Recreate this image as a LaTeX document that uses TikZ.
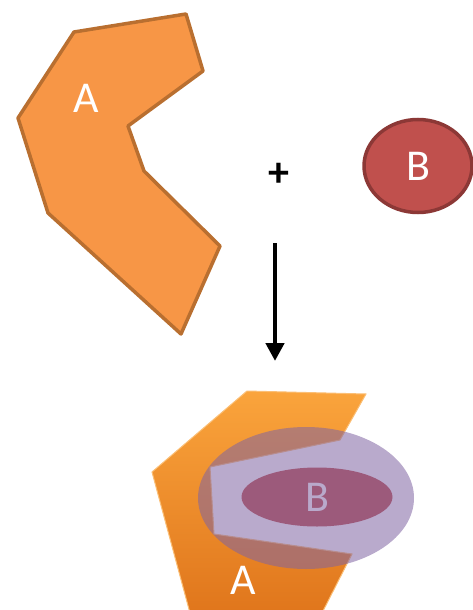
\documentclass[tikz,border=0pt]{standalone}
\usepackage{fontspec}
\setmainfont{Carlito}
\usepackage{xcolor}
\usetikzlibrary{positioning, shapes.geometric, arrows.meta}

\definecolor{orangeA}{HTML}{F79646}
\definecolor{orangeEdge}{HTML}{B96F30}
\definecolor{orangeTop}{HTML}{FAA43C}
\definecolor{orangeLow}{HTML}{E0761C}
\definecolor{redB}{HTML}{C0504D}
\definecolor{redEdge}{HTML}{8C3836}
\definecolor{purpleC}{HTML}{8064A2}

\tikzset{
    biglabel/.style={text=white, font=\fontsize{44}{52}\selectfont, inner sep=0pt},
}

\begin{document}
\begin{tikzpicture}[x=1pt, y=-1pt]
    \useasboundingbox (0,0) rectangle (472,610);

    % Define the free molecule A
    \draw[line width=3.5pt, draw=orangeEdge, fill=orangeA, line join=round]
        (74,32) -- (186,14) -- (203,71) -- (128,126) -- (144,171)
        -- (220,246) -- (181,334) -- (48,213) -- (18,118) -- cycle;
    \node[biglabel] (labelA) at (86,98) {A};

    % Free molecule B
    \node[ellipse, draw=redEdge, fill=redB, line width=3.5pt,
          minimum width=108pt, minimum height=93pt, biglabel] (B) at (418,166) {B};

    % Plus sign and reaction arrow
    \node[font=\fontsize{42}{48}\selectfont\bfseries] (plus) at (279,175) {+};
    \coordinate (arrowtop) at (275,243);
    \coordinate (arrowtip) at (275,361);
    \draw[line width=4.5pt, -{Triangle[width=18pt, length=18pt]}] (arrowtop) -- (arrowtip);

    % The complex: A closed round B
    \shade[top color=orangeTop, bottom color=orangeLow, draw=orangeTop!70!white, line width=1pt]
        (247,391) -- (366,394) -- (340,440) -- (210,467) -- (214,534)
        -- (352,554) -- (322,613) -- (190,613) -- (152,472) -- cycle;
    \node[ellipse, fill=redB, minimum width=151pt, minimum height=59pt, biglabel] (Bin) at (317,497) {B};

    % Envelope over the bound B
    \node[ellipse, fill=purpleC, fill opacity=0.55, minimum width=216pt, minimum height=142pt] (env) at (306,498) {};

    \node[biglabel] (labelAc) at (243,580) {A};
\end{tikzpicture}
\end{document}
